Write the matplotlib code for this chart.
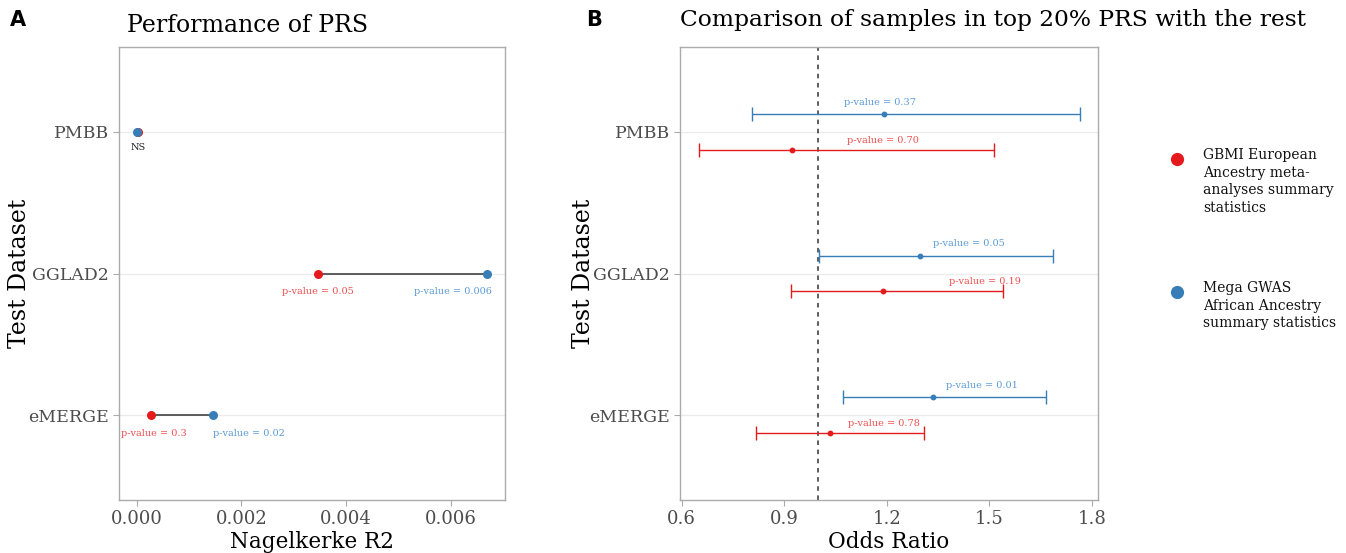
import matplotlib
matplotlib.use("Agg")
import matplotlib.pyplot as plt
from matplotlib.lines import Line2D

plt.rcParams['font.family'] = ['DejaVu Serif']

# ---- data ----
datasets = ["PMBB", "GGLAD2", "eMERGE"]
ypos = [3, 2, 1]

# Panel A: Nagelkerke R2
r2_eur = [0.00002, 0.00346, 0.00027]
r2_afr = [0.0, 0.0067, 0.00146]
p_eur_A = ["", "p-value = 0.05", "p-value = 0.3"]
p_afr_A = ["", "p-value = 0.006", "p-value = 0.02"]
xticks_A = [0.000, 0.002, 0.004, 0.006]
xticklabels_A = ["0.000", "0.002", "0.004", "0.006"]

# Panel B: Odds ratio with CI
or_eur = [0.923, 1.189, 1.034]
lo_eur = [0.652, 0.919, 0.816]
hi_eur = [1.513, 1.540, 1.308]
or_afr = [1.192, 1.297, 1.336]
lo_afr = [0.806, 1.001, 1.072]
hi_afr = [1.765, 1.685, 1.666]
p_eur_B = ["p-value = 0.70", "p-value = 0.19", "p-value = 0.78"]
p_afr_B = ["p-value = 0.37", "p-value = 0.05", "p-value = 0.01"]
xticks_B = [0.6, 0.9, 1.2, 1.5, 1.8]

legend_labels = ["GBMI European\nAncestry meta-\nanalyses summary\nstatistics",
                 "Mega GWAS\nAfrican Ancestry\nsummary statistics"]

RED = "#E41A1C"
BLUE = "#377EB8"
RED_T = "#F0504F"
BLUE_T = "#5B9BD5"
GRID = "#EBEBEB"
FRAME = "#ABABAB"
TICKC = "#4D4D4D"

W, H = 1346, 553
fig = plt.figure(figsize=(W / 100, H / 100), dpi=100)


def px_axes(l, t, r, b):
    return fig.add_axes([l / W, 1 - b / H, (r - l) / W, (b - t) / H])


def style(ax, ylab_x):
    for s in ax.spines.values():
        s.set_color(FRAME)
        s.set_linewidth(1.0)
    ax.tick_params(axis='both', colors=FRAME, labelcolor=TICKC, length=4, width=0.8,
                   labelsize=13)
    ax.tick_params(axis='y', labelsize=12.5, pad=3)
    ax.set_yticks(ypos)
    ax.set_yticklabels(datasets)
    ax.set_ylim(0.4, 3.6)
    for y in ypos:
        ax.axhline(y, color=GRID, lw=0.9, zorder=0)
    ax.set_ylabel("Test Dataset", fontsize=17)
    ax.yaxis.label.set_va('center')
    ax.yaxis.set_label_coords(ylab_x, 0.5)


# ---- Panel A ----
axA = px_axes(119, 47, 505, 500)
style(axA, (19 - 119) / 386)
axA.set_xlim(-0.000335, 0.007035)
axA.set_xticks(xticks_A)
axA.set_xticklabels(xticklabels_A)
for i, y in enumerate(ypos):
    axA.plot([r2_eur[i], r2_afr[i]], [y, y], color="#333333", lw=1.1, zorder=2)
    axA.plot(r2_eur[i], y, 'o', color=RED, ms=6.5, zorder=3, mec='none')
    axA.plot(r2_afr[i], y, 'o', color=BLUE, ms=6.5, zorder=3, mec='none')
    if i == 0:
        axA.text(r2_eur[i] + 0.00002, y - 0.11, "NS", ha='center', va='center',
                 fontsize=7, color="#222222")
# p-value labels A
axA.text(r2_eur[1], 2 - 0.13, p_eur_A[1], ha='center', va='center', fontsize=7, color=RED_T)
axA.text(r2_afr[1] + 0.00008, 2 - 0.13, p_afr_A[1], ha='right', va='center', fontsize=7, color=BLUE_T)
axA.text(r2_eur[2] + 0.00007, 1 - 0.13, p_eur_A[2], ha='center', va='center', fontsize=7, color=RED_T)
axA.text(r2_afr[2], 1 - 0.13, p_afr_A[2], ha='left', va='center', fontsize=7, color=BLUE_T)
axA.set_xlabel("Nagelkerke R2", fontsize=15.5, labelpad=2)
axA.set_title("Performance of PRS", fontsize=17, loc='left', pad=11, x=0.02)

# ---- Panel B ----
axB = px_axes(680, 47, 1098, 500)
style(axB, (583 - 680) / 418)
axB.set_xlim(0.595, 1.818)
axB.set_xticks(xticks_B)
axB.set_xticklabels([f"{v:.1f}" for v in xticks_B])
axB.axvline(1.0, color="#333333", lw=1.1, ls=(0, (3, 3)), zorder=1)
off = 0.125
lbl_x_afr = [1.18, 1.44, 1.478]
lbl_x_eur = [1.19, 1.488, 1.193]
for i, y in enumerate(ypos):
    axB.errorbar(or_afr[i], y + off, xerr=[[or_afr[i] - lo_afr[i]], [hi_afr[i] - or_afr[i]]],
                 fmt='o', color=BLUE, ms=3.2, elinewidth=1.0, capsize=5, capthick=1.0, zorder=3)
    axB.errorbar(or_eur[i], y - off, xerr=[[or_eur[i] - lo_eur[i]], [hi_eur[i] - or_eur[i]]],
                 fmt='o', color=RED, ms=3.2, elinewidth=1.0, capsize=5, capthick=1.0, zorder=3)
    axB.text(lbl_x_afr[i], y + off + 0.085, p_afr_B[i], ha='center', va='center',
             fontsize=7, color=BLUE_T)
    axB.text(lbl_x_eur[i], y - off + 0.065, p_eur_B[i], ha='center', va='center',
             fontsize=7, color=RED_T)
axB.set_xlabel("Odds Ratio", fontsize=15.5, labelpad=2)
axB.set_title("Comparison of samples in top 20% PRS with the rest", fontsize=16.8,
              loc='left', pad=15, x=0.0)

# ---- Legend (manual) ----
leg_colors = [RED, BLUE]
leg_y = [159, 292]
for c, y, lab in zip(leg_colors, leg_y, legend_labels):
    fig.add_artist(Line2D([1177 / W], [1 - y / H], transform=fig.transFigure,
                          marker='o', ls='none', color=c, ms=9.5, mec='none'))
    fig.text(1203 / W, 1 - (y - 11) / H, lab, fontsize=10, va='top', ha='left',
             linespacing=1.33, color="#111111")

# ---- Panel letters ----
fig.text(10 / W, 1 - 20 / H, "A", fontsize=15, fontweight='bold', family='DejaVu Sans',
         va='center', ha='left')
fig.text(586 / W, 1 - 20 / H, "B", fontsize=15, fontweight='bold', family='DejaVu Sans',
         va='center', ha='left')

fig.savefig("out.png", dpi=100)
